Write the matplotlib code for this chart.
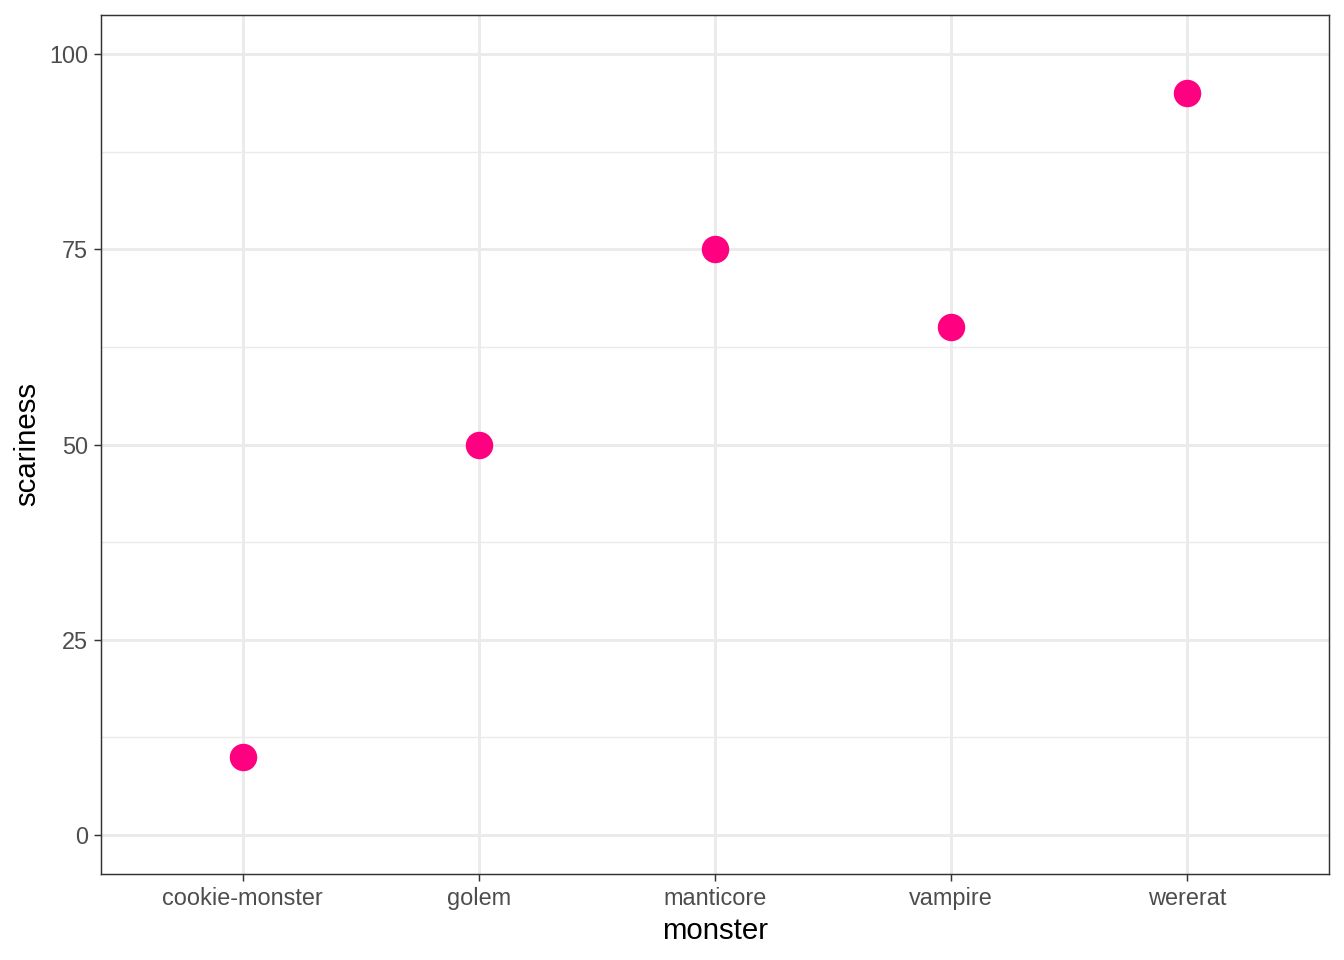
import matplotlib
matplotlib.use("Agg")
import matplotlib.pyplot as plt
from matplotlib.ticker import MultipleLocator

monsters = ["cookie-monster", "golem", "manticore", "vampire", "wererat"]
scariness = [10, 50, 75, 65, 95]
y_ticks = [0, 25, 50, 75, 100]

plt.rcParams['font.family'] = ['Liberation Sans', 'DejaVu Sans']

fig = plt.figure(figsize=(7, 5), dpi=192)
ax = fig.add_axes([101 / 1344, 1 - 874 / 960, (1329 - 101) / 1344, (874 - 15) / 960])

x = list(range(len(monsters)))
ax.scatter(x, scariness, s=10.3 ** 2, color='#FF0080', linewidths=0, zorder=3)

# ggplot-style 5% / 0.6 expansion
ax.set_xlim(-0.6, len(monsters) - 1 + 0.6)
ax.set_ylim(-5, 105)
ax.set_xticks(x)
ax.set_xticklabels(monsters)
ax.set_yticks(y_ticks)
ax.yaxis.set_minor_locator(MultipleLocator(12.5))

# theme_bw look
ax.grid(True, which='major', color='#EBEBEB', linewidth=1.1, zorder=0)
ax.grid(True, which='minor', axis='y', color='#EBEBEB', linewidth=0.55, zorder=0)
ax.set_axisbelow(True)
for sp in ax.spines.values():
    sp.set_color('#333333')
    sp.set_linewidth(0.55)
ax.tick_params(which='major', length=2.75, width=0.55, color='#333333',
               labelsize=8.8, labelcolor='#4D4D4D', pad=2.2)
ax.tick_params(which='minor', length=0)

ax.set_xlabel('monster', fontsize=11, color='black', labelpad=2.5)
ax.set_ylabel('scariness', fontsize=11, color='black', labelpad=2.75)

fig.savefig('out.png', dpi=192)
